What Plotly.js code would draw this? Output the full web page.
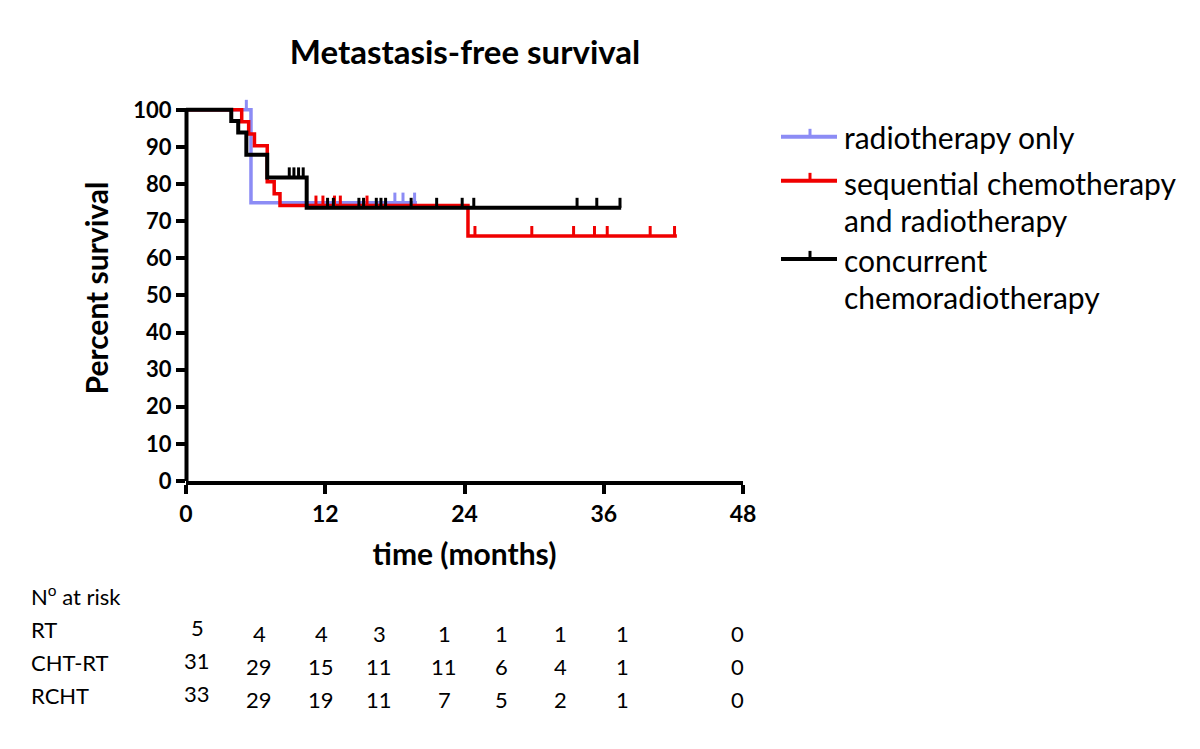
<!DOCTYPE html>
<html>
<head>
<meta charset="utf-8">
<script src="https://cdn.plot.ly/plotly-3.0.1.min.js"></script>
<style>html,body{margin:0;padding:0;background:#fff;}#chart{width:1200px;height:749px;}</style>
</head>
<body>
<div id="chart"></div>
<script>
// ---- data ----
const groupNames = ["radiotherapy only", "sequential chemotherapy and radiotherapy", "concurrent chemoradiotherapy"];
const rtEventTimes = [5.6];
const rtEventLevels = [75];
const rtCensorTimes = [5.2, 18.0, 18.7, 19.7];
const rtEnd = 19.9;

const chtEventTimes = [4.8, 5.4, 5.9, 7.0, 7.6, 8.1, 24.3];
const chtEventLevels = [96.8, 93.5, 90.3, 80.6, 77.4, 74.2, 66.0];
const chtCensorTimes = [11.2, 11.8, 12.8, 13.3, 15.6, 24.9, 29.8, 33.4, 35.2, 36.3, 40.0, 42.1];
const chtEnd = 42.3;

const rchtEventTimes = [3.9, 4.5, 5.2, 7.0, 10.4];
const rchtEventLevels = [97.0, 93.9, 87.9, 81.8, 73.6];
const rchtCensorTimes = [8.9, 9.3, 9.7, 10.1, 12.2, 12.7, 14.9, 15.3, 16.4, 16.8, 17.2, 19.4, 21.6, 23.8, 24.8, 33.7, 35.4, 37.4];
const rchtEnd = 37.5;

const xTicks = [0, 12, 24, 36, 48];
const yTicks = [0, 10, 20, 30, 40, 50, 60, 70, 80, 90, 100];

const riskLabels = ["RT", "CHT-RT", "RCHT"];
const riskRT = [5, 4, 4, 3, 1, 1, 1, 1, 0];
const riskCHT = [31, 29, 15, 11, 11, 6, 4, 1, 0];
const riskRCHT = [33, 29, 19, 11, 7, 5, 2, 1, 0];

// ---- styling / layout helpers ----
const colors = ["rgb(140,140,245)", "rgb(240,0,0)", "rgb(0,0,0)"];
const widths = [3.5, 3.5, 4];
const FONT = "Lato, 'Open Sans', sans-serif";
const L = 186, R = 743, T = 95.2, B = 481;
const px2x = p => (p - L) / (R - L);
const py2y = p => (B - p) / (B - T);
const tickUp = 2.7;

function stepCurve(times, levels, end) {
  return { x: [0].concat(times, [end]), y: [100].concat(levels, [levels[levels.length - 1]]) };
}
function survAt(times, levels, t) {
  let s = 100;
  for (let i = 0; i < times.length; i++) if (times[i] <= t) s = levels[i];
  return s;
}
function censorSegs(times, levels, cens) {
  const x = [], y = [];
  cens.forEach(t => { const s = survAt(times, levels, t); x.push(t, t, null); y.push(s, s + tickUp, null); });
  return { x, y };
}

const groups = [
  [rtEventTimes, rtEventLevels, rtCensorTimes, rtEnd],
  [chtEventTimes, chtEventLevels, chtCensorTimes, chtEnd],
  [rchtEventTimes, rchtEventLevels, rchtCensorTimes, rchtEnd]
];

const traces = [];
groups.forEach((g, i) => {
  const c = stepCurve(g[0], g[1], g[3]);
  traces.push({ type: "scatter", mode: "lines", name: groupNames[i], x: c.x, y: c.y,
    line: { shape: "hv", color: colors[i], width: widths[i] }, showlegend: false, hoverinfo: "x+y" });
  const s = censorSegs(g[0], g[1], g[2]);
  traces.push({ type: "scatter", mode: "lines", name: groupNames[i] + " (censored)", x: s.x, y: s.y,
    line: { color: colors[i], width: 3 }, showlegend: false, hoverinfo: "skip" });
});

const shapes = [
  { type: "line", xref: "paper", yref: "y", x0: px2x(186.5), x1: px2x(186.5), y0: -0.6, y1: 100.5,
    line: { color: "black", width: 4 } }
];
const annotations = [];

// manual legend
const legendRows = [
  { y: 137, lines: [["radiotherapy only", 137]] },
  { y: 181, lines: [["sequential chemotherapy", 183], ["and radiotherapy", 220]] },
  { y: 259, lines: [["concurrent", 260], ["chemoradiotherapy", 297]] }
];
legendRows.forEach((r, i) => {
  shapes.push({ type: "line", xref: "paper", yref: "paper", x0: px2x(781), x1: px2x(837), y0: py2y(r.y), y1: py2y(r.y),
    line: { color: colors[i], width: 4 } });
  shapes.push({ type: "line", xref: "paper", yref: "paper", x0: px2x(810), x1: px2x(810), y0: py2y(r.y), y1: py2y(r.y - 8),
    line: { color: colors[i], width: 3 } });
  r.lines.forEach(l => annotations.push({ xref: "paper", yref: "paper", x: px2x(842), y: py2y(l[1]),
    xanchor: "left", yanchor: "middle", showarrow: false, text: l[0],
    font: { family: FONT, size: 30, color: "black" } }));
});

// number at risk table
annotations.push({ xref: "paper", yref: "paper", x: px2x(29), y: py2y(595), xanchor: "left", yanchor: "middle",
  showarrow: false, text: "N<sup>o</sup> at risk", font: { family: FONT, size: 22, color: "black" } });
const colX = [197, 259, 321, 379, 444, 501, 560, 622, 737];
const rowY = [633, 666, 699];
const firstColLift = 6;
[riskRT, riskCHT, riskRCHT].forEach((row, ri) => {
  annotations.push({ xref: "paper", yref: "paper", x: px2x(29), y: py2y(rowY[ri] - 4), xanchor: "left", yanchor: "middle",
    showarrow: false, text: riskLabels[ri], font: { family: FONT, size: 22, color: "black" } });
  row.forEach((v, ci) => annotations.push({ xref: "paper", yref: "paper", x: px2x(colX[ci]),
    y: py2y(rowY[ri] - (ci === 0 ? firstColLift : 0)), xanchor: "center", yanchor: "middle",
    showarrow: false, text: String(v), font: { family: FONT, size: 22, color: "black" } }));
});

const layout = {
  width: 1200, height: 749,
  margin: { l: L, r: 1200 - R, t: T, b: 749 - B, pad: 0 },
  paper_bgcolor: "white", plot_bgcolor: "white",
  showlegend: false,
  title: { text: "<b>Metastasis-free survival</b>", x: 465 / 1200, xanchor: "center", y: 1 - 52 / 749, yanchor: "middle",
    font: { family: FONT, size: 33, color: "black" } },
  xaxis: {
    range: [0, 48], tickvals: xTicks, ticktext: xTicks.map(String),
    showline: true, linecolor: "black", linewidth: 4, mirror: false,
    ticks: "outside", ticklen: 9, tickwidth: 4, tickcolor: "black",
    showgrid: false, zeroline: false,
    tickfont: { family: FONT, size: 23, color: "black", weight: 700 },
    title: { text: "time (months)", standoff: 19, font: { family: FONT, size: 30, color: "black", weight: 700 } }
  },
  yaxis: {
    range: [0, 104], tickvals: yTicks, ticktext: yTicks.map(String),
    showline: false, ticks: "outside", ticklen: 9, tickwidth: 4, tickcolor: "black",
    showgrid: false, zeroline: false,
    tickfont: { family: FONT, size: 22, color: "black", weight: 700 },
    title: { text: "Percent survival", standoff: 15, font: { family: FONT, size: 30, color: "black", weight: 700 } }
  },
  shapes: shapes,
  annotations: annotations
};

Plotly.newPlot("chart", traces, layout, { displayModeBar: false, staticPlot: true });
</script>
</body>
</html>
